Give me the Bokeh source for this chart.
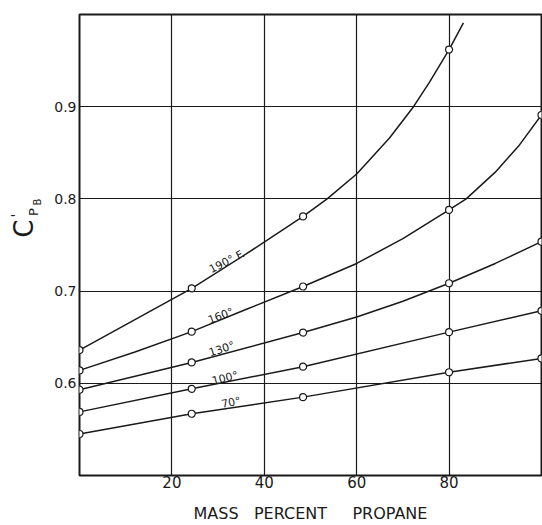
import math
from bokeh.plotting import figure
from bokeh.layouts import row
from bokeh.models import FixedTicker, Label, Range1d
from bokeh.embed import file_html
from bokeh.resources import INLINE

# ---- data ----
x_ticks = [20, 40, 60, 80]
y_ticks = [0.6, 0.7, 0.8, 0.9]

marker_x = [0, 24.3, 48.4, 80, 100]
marker_190 = [0.636, 0.703, 0.781, 0.962]
marker_160 = [0.614, 0.656, 0.705, 0.788, 0.891]
marker_130 = [0.593, 0.6226, 0.655, 0.7085, 0.7536]
marker_100 = [0.569, 0.594, 0.618, 0.6555, 0.6786]
marker_70 = [0.545, 0.567, 0.585, 0.612, 0.627]

curve_190_x = [0, 12, 24.3, 36, 48.4, 53.6, 60, 67.1, 72.3, 75.8, 80, 83.1]
curve_190_y = [0.636, 0.669, 0.703, 0.740, 0.781, 0.800, 0.827, 0.866, 0.900, 0.927, 0.962, 0.991]
curve_160_x = [0, 12, 24.3, 36, 48.4, 60, 70, 80, 83.7, 90, 95, 100]
curve_160_y = [0.614, 0.634, 0.656, 0.680, 0.705, 0.730, 0.757, 0.788, 0.800, 0.829, 0.857, 0.891]
curve_130_x = [0, 24.3, 48.4, 60, 70, 80, 90, 100]
curve_130_y = [0.593, 0.6226, 0.655, 0.672, 0.689, 0.7085, 0.730, 0.7536]
curve_100_x = [0, 24.3, 48.4, 80, 100]
curve_100_y = [0.569, 0.594, 0.618, 0.6555, 0.6786]
curve_70_x = [0, 24.3, 48.4, 80, 100]
curve_70_y = [0.545, 0.567, 0.585, 0.612, 0.627]

curve_labels = ["190° F.", "160°", "130°", "100°", "70°"]

NB = "\u00a0"
x_title = "MASS" + NB * 3 + "PERCENT" + NB * 5 + "PROPANE"

# ---- styling ----
INK = "#1a1a1a"
FONT = "DejaVu Sans"
W, H = 542, 525
TITLE_W = 45

# ---- left strip holding the y title C'_P_B (coordinates = pixels, y up) ----
t = figure(width=TITLE_W, height=H, x_range=Range1d(0, TITLE_W), y_range=Range1d(0, H),
           output_backend="svg", toolbar_location=None,
           x_axis_location=None, y_axis_location=None,
           min_border_left=0, min_border_right=0, min_border_top=0, min_border_bottom=0)
t.outline_line_color = None
t.grid.visible = False
t.background_fill_color = "white"
t.border_fill_color = "white"
for txt, px, py, fs in (("C", 23.5, 244, "26px"), ("'", 15.5, 229, "14px"),
                        ("P", 32.5, 225, "13px"), ("B", 37, 213.5, "10px")):
    t.add_layout(Label(x=px, y=H - py, text=txt, angle=math.pi / 2, text_align="center",
                       text_baseline="middle", text_font=FONT, text_font_size=fs,
                       text_color=INK))

# ---- main chart ----
p = figure(width=W - TITLE_W, height=H, x_range=Range1d(0, 100), y_range=Range1d(0.5, 1.0),
           output_backend="svg", toolbar_location=None,
           min_border_left=79 - TITLE_W, min_border_right=1, min_border_top=14, min_border_bottom=49)
p.background_fill_color = "white"
p.border_fill_color = "white"
p.outline_line_color = INK
p.outline_line_width = 2

for ax, ticks in ((p.xaxis, x_ticks), (p.yaxis, y_ticks)):
    ax.ticker = FixedTicker(ticks=ticks)
    ax.axis_line_color = None
    ax.major_tick_line_color = None
    ax.minor_tick_line_color = None
    ax.major_tick_out = 0
    ax.major_tick_in = 0
    ax.minor_tick_out = 0
    ax.minor_tick_in = 0
    ax.major_label_text_font = FONT
    ax.major_label_text_color = INK
p.xaxis.major_label_text_font_size = "15px"
p.xaxis.major_label_standoff = 0
p.yaxis.major_label_text_font_size = "14px"
p.yaxis.major_label_standoff = 3

p.xaxis.axis_label = x_title
p.xaxis.axis_label_text_font = FONT
p.xaxis.axis_label_text_font_style = "normal"
p.xaxis.axis_label_text_font_size = "16px"
p.xaxis.axis_label_text_color = INK
p.xaxis.axis_label_standoff = 13

for g, ticks in ((p.xgrid, x_ticks), (p.ygrid, y_ticks)):
    g.ticker = FixedTicker(ticks=ticks)
    g.grid_line_color = INK
    g.grid_line_width = 1.2
    g.grid_line_alpha = 1

curves = [(curve_190_x, curve_190_y), (curve_160_x, curve_160_y), (curve_130_x, curve_130_y),
          (curve_100_x, curve_100_y), (curve_70_x, curve_70_y)]
for cx, cy in curves:
    p.line(cx, cy, line_color=INK, line_width=1.5)

for my in (marker_190, marker_160, marker_130, marker_100, marker_70):
    p.scatter(marker_x[:len(my)], my, marker="circle", size=7, fill_color="white",
              line_color=INK, line_width=1.2)

# curve labels (x, y, angle in degrees)
label_pos = [(31.9, 0.732, 27), (30.6, 0.673, 21), (30.8, 0.637, 18), (31.5, 0.6055, 14), (32.8, 0.579, 12)]
for txt, (lx, ly, ang) in zip(curve_labels, label_pos):
    p.add_layout(Label(x=lx, y=ly, text=txt, angle=math.radians(ang), text_align="center",
                       text_baseline="middle", text_font=FONT, text_font_size="11px",
                       text_color=INK))

layout = row(t, p, spacing=0)
open("out.html", "w").write(file_html(layout, INLINE))
